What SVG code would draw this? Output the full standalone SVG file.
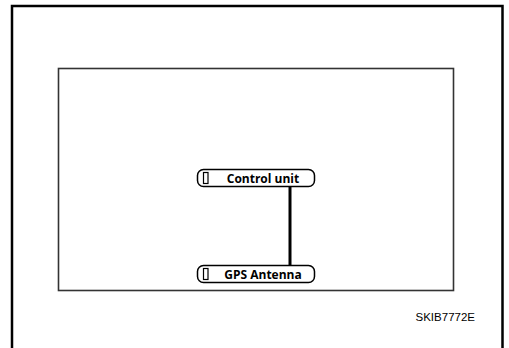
<svg xmlns="http://www.w3.org/2000/svg" width="509" height="348" viewBox="0 0 509 348">
<style>
.pill{fill:#fff;stroke:#000;stroke-width:1.5}
.tag{fill:#fff;stroke:#000;stroke-width:1.2}
.lbl{font-family:"Open Sans","Liberation Sans",sans-serif;font-weight:bold;font-size:12px;fill:#000}
</style>
<rect width="509" height="348" fill="#fff"/>
<path d="M12 348 V6 H502.5 V348" fill="none" stroke="#000" stroke-width="2.5"/>
<rect x="58.5" y="68.5" width="395" height="222" fill="none" stroke="#333" stroke-width="1.6"/>
<g id="connectors">
<line x1="290" y1="187" x2="290" y2="265" stroke="#000" stroke-width="3"/>
</g>
<g id="control-unit">
<rect class="pill" x="197.5" y="169.5" width="117" height="17" rx="6"/>
<rect class="tag" x="203.5" y="172.5" width="4.5" height="11"/>
<text class="lbl" x="263" y="182.5" text-anchor="middle">Control unit</text>
</g>
<g id="gps-antenna">
<rect class="pill" x="197.5" y="265.5" width="117" height="17" rx="6"/>
<rect class="tag" x="203.5" y="268.5" width="4.5" height="11"/>
<text class="lbl" x="263" y="278.5" text-anchor="middle">GPS Antenna</text>
</g>
<text x="475" y="321" text-anchor="end" font-family="Liberation Sans, Arial, sans-serif" font-size="11.5" fill="#000">SKIB7772E</text>
</svg>
